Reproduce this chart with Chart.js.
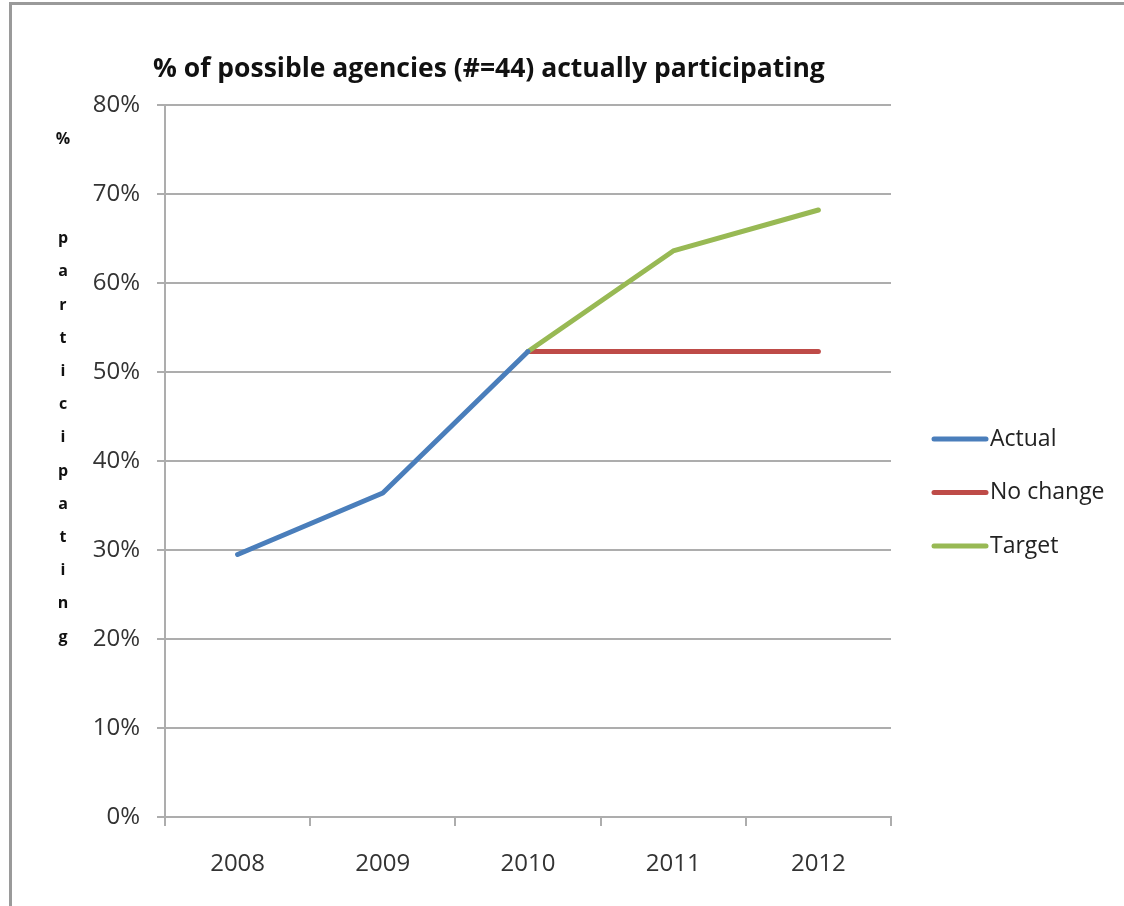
<!DOCTYPE html>
<html>
<head>
<meta charset="utf-8">
<script src="https://cdn.jsdelivr.net/npm/chart.js@4/dist/chart.umd.min.js"></script>
<style>
  html, body { margin: 0; padding: 0; background: #fff; }
  #wrap { position: relative; width: 1124px; height: 906px; overflow: hidden; }
  #frame { position: absolute; left: 9px; top: 2px; right: -10px; bottom: -10px;
           border-top: 3px solid #9a9a9a; border-left: 3px solid #9a9a9a; }
  canvas { position: absolute; left: 0; top: 0; }
</style>
</head>
<body>
<div id="wrap">
  <div id="frame"></div>
  <canvas id="chart" width="1124" height="906"></canvas>
</div>
<script>
// participation share per year (share of the 44 agencies)
const years = ["2008", "2009", "2010", "2011", "2012"];
const actual = [29.5, 36.4, 52.3, null, null];
const noChange = [null, null, 52.3, 52.3, 52.3];
const target = [null, null, 52.3, 63.6, 68.2];

const chartTitle = "% of possible agencies (#=44) actually participating";
const yTitle = "% participating";

const FONT = '"Open Sans", "Noto Sans", sans-serif';
const GRID = "#adadad";

// title, stacked y-axis caption and the side legend
const decorations = {
    id: "decorations",
    afterDraw(chart) {
        const ctx = chart.ctx;
        ctx.save();
        ctx.fillStyle = "#111";
        ctx.textBaseline = "middle";

        ctx.font = "bold 26.5px " + FONT;
        ctx.textAlign = "left";
        ctx.fillText(chartTitle, 153, 69);

        // one letter per line, a space takes two lines
        ctx.font = "bold 16px " + FONT;
        ctx.textAlign = "center";
        let y = 139;
        for (const ch of yTitle) {
            if (ch === " ") { y += 33.2 * 2; continue; }
            ctx.fillText(ch, 63, y);
            y += 33.2;
        }

        ctx.font = "23px " + FONT;
        ctx.textAlign = "left";
        ctx.fillStyle = "#222";
        chart.data.datasets.forEach((ds, i) => {
            const ly = 439 + i * 53.5;
            ctx.strokeStyle = ds.borderColor;
            ctx.lineWidth = 5;
            ctx.lineCap = "round";
            ctx.beginPath();
            ctx.moveTo(934, ly);
            ctx.lineTo(986, ly);
            ctx.stroke();
            ctx.fillText(ds.label, 990, ly);
        });
        ctx.restore();
    }
};

const lineStyle = {
    borderWidth: 5,
    pointRadius: 0,
    borderCapStyle: "round",
    borderJoinStyle: "round",
    spanGaps: false,
    tension: 0,
};

const data = {
    labels: years,
    datasets: [
        {label: "Actual", data: actual, borderColor: "#4a7ebb", order: 1, ...lineStyle},
        {label: "No change", data: noChange, borderColor: "#be4b48", order: 3, ...lineStyle},
        {label: "Target", data: target, borderColor: "#98b954", order: 2, ...lineStyle},
    ],
};

const options = {
    responsive: false,
    devicePixelRatio: 1,
    animation: false,
    layout: {padding: {left: 85, right: 233, top: 105, bottom: 29}},
    plugins: {
        legend: {display: false},
        title: {display: false},
        tooltip: {enabled: false},
    },
    scales: {
        x: {
            offset: true,
            afterFit: s => { s.height = 60; },
            grid: {
                offset: true,
                drawOnChartArea: false,
                drawTicks: true,
                tickLength: 9,
                color: GRID,
                lineWidth: 2,
            },
            border: {display: true, color: GRID, width: 2},
            ticks: {
                padding: 24,
                color: "#333",
                font: {family: FONT, size: 24},
                maxRotation: 0,
            },
        },
        y: {
            min: 0,
            max: 80,
            afterFit: s => { s.width = 80; },
            grid: {
                drawTicks: true,
                tickLength: 8,
                color: GRID,
                lineWidth: 2,
            },
            border: {display: true, color: GRID, width: 2},
            ticks: {
                stepSize: 10,
                padding: 17,
                color: "#333",
                font: {family: FONT, size: 24},
                callback: v => v + "%",
            },
        },
    },
};

new Chart(document.getElementById("chart").getContext("2d"), {
    type: "line",
    data,
    options,
    plugins: [decorations],
});
</script>
</body>
</html>
